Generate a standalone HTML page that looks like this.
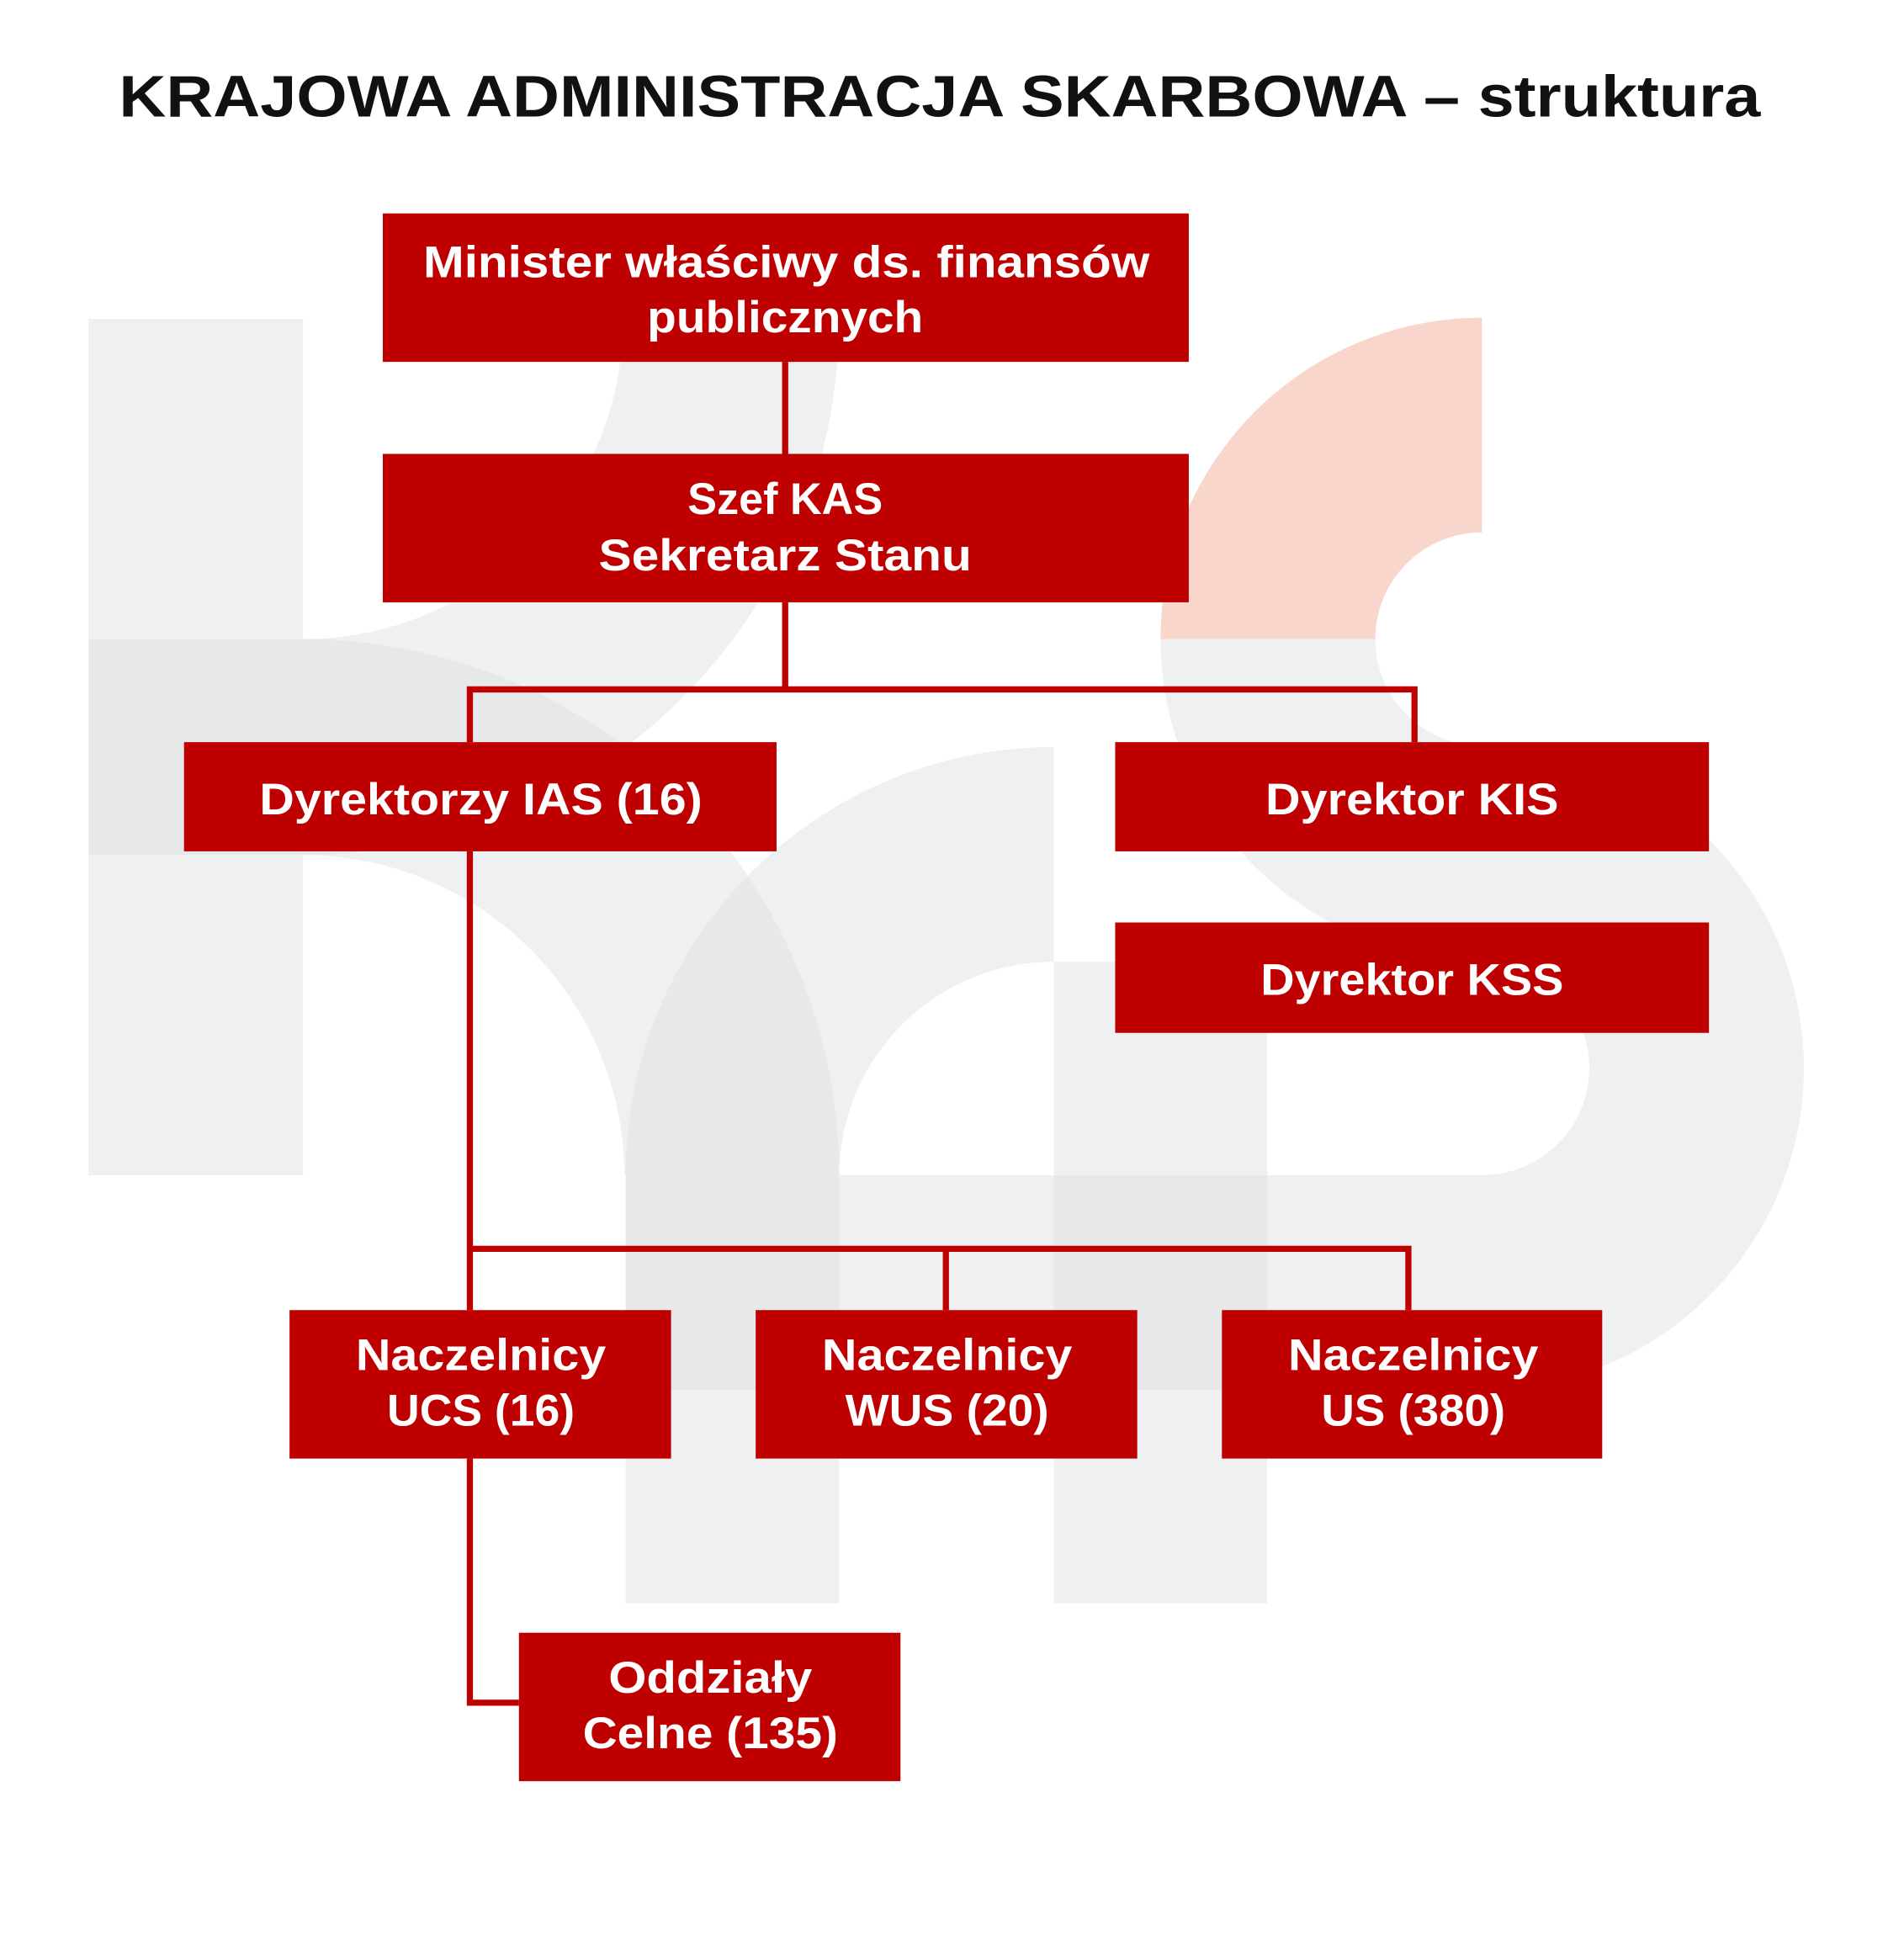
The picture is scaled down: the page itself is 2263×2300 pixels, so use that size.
<!DOCTYPE html>
<html><head><meta charset="utf-8"><style>
html,body{margin:0;padding:0;background:#fff;}
svg{display:block;}
text{font-family:"Liberation Sans","DejaVu Sans",sans-serif;font-weight:bold;}
</style></head><body>
<svg width="2263" height="2300" viewBox="0 0 1552 1577.4" xmlns="http://www.w3.org/2000/svg" preserveAspectRatio="none">
<rect width="1552" height="1578" fill="#fff"/>
<g fill="#dcdde1" fill-opacity="0.45">
<rect x="72" y="260" width="175" height="698"/>
<rect x="72" y="521" width="175" height="176"/>
<path d="M684 260 A437 437 0 0 1 247 697 L247 521 A261 261 0 0 0 508 260 Z"/>
<path d="M247 521 A437 437 0 0 1 684 958 L509 958 A262 262 0 0 0 247 697 Z"/>
<path d="M510 958 A349 349 0 0 1 859 609 L859 784 A175 175 0 0 0 684 958 Z"/>
<rect x="510" y="958" width="174" height="349"/>
<rect x="859" y="784" width="174" height="523"/>
<rect x="510" y="958" width="698" height="175"/>
<path d="M1208 608 A262 262 0 0 1 1208 1133 L1208 958 A87 87 0 0 0 1208 783 Z"/>
<path d="M946 521 A262 262 0 0 0 1208 783 L1208 608 A87 87 0 0 1 1121 521 Z"/>
</g>
<path d="M946 521 A262 262 0 0 1 1208 259 L1208 434 A87 87 0 0 0 1121 521 Z" fill="#f8d6cc"/>

<text x="766" y="95" font-size="48" text-anchor="middle" fill="#111" textLength="1338" lengthAdjust="spacingAndGlyphs">KRAJOWA ADMINISTRACJA SKARBOWA – struktura</text>

<g stroke="#bf0000" stroke-width="5" fill="none">
<line x1="640" y1="295" x2="640" y2="370"/>
<polyline points="640,491 640,562"/>
<polyline points="383,605 383,562 1153,562 1153,605"/>
<polyline points="383,694 383,1068"/>
<polyline points="383,1018 1148,1018 1148,1068"/>
<line x1="771" y1="1018" x2="771" y2="1068"/>
<polyline points="383,1189 383,1388 423,1388"/>
</g>

<g fill="#bf0000">
<rect x="312" y="174" width="657" height="121"/>
<rect x="312" y="370" width="657" height="121"/>
<rect x="150" y="605" width="483" height="89"/>
<rect x="909" y="605" width="484" height="89"/>
<rect x="909" y="752" width="484" height="90"/>
<rect x="236" y="1068" width="311" height="121"/>
<rect x="616" y="1068" width="311" height="121"/>
<rect x="996" y="1068" width="310" height="121"/>
<rect x="423" y="1331" width="311" height="121"/>
</g>

<g fill="#fff" font-size="36" text-anchor="middle" lengthAdjust="spacingAndGlyphs">
<text x="641" y="226" textLength="592" lengthAdjust="spacingAndGlyphs">Minister właściwy ds. finansów</text>
<text x="640" y="271" textLength="225" lengthAdjust="spacingAndGlyphs">publicznych</text>
<text x="640" y="419" textLength="159" lengthAdjust="spacingAndGlyphs">Szef KAS</text>
<text x="640" y="465" textLength="304" lengthAdjust="spacingAndGlyphs">Sekretarz Stanu</text>
<text x="392" y="664" textLength="361" lengthAdjust="spacingAndGlyphs">Dyrektorzy IAS (16)</text>
<text x="1151" y="664" textLength="239" lengthAdjust="spacingAndGlyphs">Dyrektor KIS</text>
<text x="1151" y="811" textLength="247" lengthAdjust="spacingAndGlyphs">Dyrektor KSS</text>
<text x="392" y="1117" textLength="204" lengthAdjust="spacingAndGlyphs">Naczelnicy</text>
<text x="392" y="1162" textLength="153" lengthAdjust="spacingAndGlyphs">UCS (16)</text>
<text x="772" y="1117" textLength="204" lengthAdjust="spacingAndGlyphs">Naczelnicy</text>
<text x="772" y="1162" textLength="166" lengthAdjust="spacingAndGlyphs">WUS (20)</text>
<text x="1152" y="1117" textLength="204" lengthAdjust="spacingAndGlyphs">Naczelnicy</text>
<text x="1152" y="1162" textLength="150" lengthAdjust="spacingAndGlyphs">US (380)</text>
<text x="579" y="1380" textLength="166" lengthAdjust="spacingAndGlyphs">Oddziały</text>
<text x="579" y="1425" textLength="208" lengthAdjust="spacingAndGlyphs">Celne (135)</text>
</g>
</svg>
</body></html>
